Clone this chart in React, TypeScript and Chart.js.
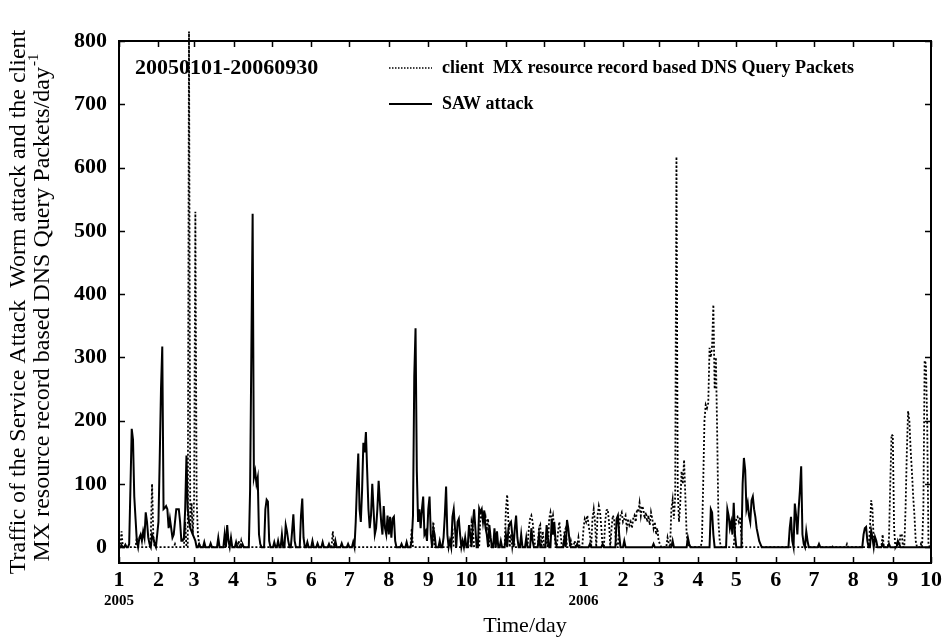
import React, { useEffect, useRef } from "react";
import { Chart, registerables } from "chart.js";

Chart.register(...registerables);

// ---- axis definitions ----
const monthTicks = [0, 31, 59, 90, 120, 151, 181, 212, 243, 273, 304, 334, 365, 396, 424, 455, 485, 516, 546, 577, 608, 638];
const monthLabels = ["1", "2", "3", "4", "5", "6", "7", "8", "9", "10", "11", "12", "1", "2", "3", "4", "5", "6", "7", "8", "9", "10"];
const yearDays = [0, 365];
const yearLabels = ["2005", "2006"];
const yTicks = [0, 100, 200, 300, 400, 500, 600, 700, 800];
const totalDays = 639;

// ---- SAW attack (solid), day index since 2005-01-01 -> packets/day ----
const sawDays = [
  2, 5, 8, 9, 10, 11, 12, 13, 14, 16, 17, 18, 19, 20, 21, 22, 23, 24, 26, 27, 28, 30,
  31, 32, 33, 34, 35, 36, 37, 38, 39, 40, 41, 42, 43, 44, 45, 46, 47, 48, 49, 50, 51, 52, 53,
  54, 55, 56, 57, 58, 59, 60, 63, 67, 72, 78, 83, 85, 86, 88, 92, 97,
  103, 104, 105, 106, 107, 108, 109, 110, 111, 115, 116, 117, 118, 122, 125, 128, 131, 132, 133,
  136, 137, 138, 143, 144, 145, 148, 152, 156, 160, 165, 170, 175, 180, 184,
  186, 187, 188, 189, 190, 191, 192, 193, 194, 195, 196, 197, 198, 199, 200, 201, 202, 203, 204, 205,
  206, 207, 208, 209, 210, 211, 212, 213, 214, 215, 216, 217, 222, 226, 230, 231, 232, 233, 234, 235,
  236, 237, 238, 239, 240, 241, 242, 243, 244, 245, 247, 248, 252, 255, 256, 257, 258, 260, 262, 263,
  264, 266, 267, 268, 270, 272, 275, 276, 278, 279, 280, 283, 284, 285, 286, 287, 288, 289, 291, 292,
  295, 297, 300, 304, 306, 307, 308, 309, 311, 312, 313, 316, 320, 324, 325, 330, 336, 337, 340, 341,
  342, 343, 350, 352, 353, 354, 360, 370, 380, 391, 392, 393, 397, 420, 435, 447, 448, 465, 466, 467,
  478, 479, 480, 481, 482, 483, 484, 490, 491, 492, 493, 494, 495, 496, 497, 498, 499, 500, 501, 502,
  503, 504, 527, 528, 529, 531, 532, 533, 534, 535, 536, 537, 538, 540, 541, 550, 585, 586, 587, 588,
  591, 592, 594, 595, 600, 605, 612, 613,
];
const sawValues = [
  3, 4, 5, 95, 187, 170, 80, 45, 10, 15, 20, 10, 25, 15, 55, 40, 15, 5, 20, 15, 5, 20,
  40, 140, 250, 317, 60, 62, 65, 60, 30, 45, 30, 15, 20, 40, 60, 60, 60, 40, 10, 10, 15, 60, 145,
  60, 40, 30, 25, 20, 15, 10, 5, 8, 6, 15, 20, 35, 10, 15, 8, 5,
  90, 310, 527, 110, 120, 100, 110, 20, 5, 60, 75, 72, 10, 8, 10, 20, 35, 25, 10,
  25, 52, 10, 50, 77, 15, 8, 10, 6, 8, 5, 10, 6, 5, 8,
  40, 100, 148, 60, 40, 90, 165, 150, 182, 120, 60, 30, 50, 100, 60, 20, 30, 60, 105, 70,
  40, 20, 65, 30, 20, 50, 20, 48, 15, 45, 48, 10, 5, 8, 10, 50, 270, 346, 120, 40,
  60, 30, 60, 80, 20, 25, 10, 60, 80, 20, 30, 20, 10, 15, 50, 96, 20, 10, 48, 60,
  30, 40, 45, 20, 10, 15, 35, 20, 37, 60, 30, 61, 55, 60, 40, 58, 30, 20, 35, 15,
  30, 25, 10, 20, 30, 37, 40, 20, 30, 50, 15, 20, 15, 30, 10, 20, 35, 15, 45, 20,
  40, 10, 15, 43, 30, 10, 5, 5, 5, 45, 50, 20, 10, 5, 10, 15, 5, 60, 55, 20,
  60, 50, 30, 40, 20, 70, 20, 100, 141, 122, 60, 70, 50, 40, 74, 80, 60, 48, 30, 20,
  10, 5, 30, 48, 10, 69, 50, 20, 60, 90, 128, 20, 5, 25, 10, 5, 20, 30, 32, 10,
  26, 15, 16, 10, 5, 5, 10, 5,
];

// ---- client MX resource record based DNS query packets (dotted) ----
const mxDays = [
  2, 14, 25, 26, 27, 44, 52, 55, 56, 57, 58, 59, 60, 61, 62, 63, 94, 96, 168, 230,
  247, 262, 277, 278, 284, 285, 286, 287, 288, 289, 290, 304, 305, 306, 308, 310,
  322, 323, 324, 325, 326, 330, 331, 333, 336, 338, 339, 340, 341, 342, 345, 346, 347, 350, 351,
  355, 358, 361, 365, 366, 367, 368, 369, 370, 372, 373, 374, 376, 377, 378, 379, 382, 383, 384,
  385, 387, 388, 389, 390, 393, 394, 395, 396, 397, 398, 399, 400, 401, 402, 403, 404, 405, 406,
  407, 408, 409, 410, 411, 412, 413, 414, 415, 416, 417, 418, 419, 420, 421, 422, 423, 424, 425,
  431, 432, 434, 435, 436, 437, 438, 439, 440, 441, 442, 443, 444, 445, 446, 447,
  458, 459, 460, 461, 462, 463, 464, 465, 466, 467, 468, 469, 470, 471, 472,
  484, 485, 486, 487, 488, 489, 560, 572, 590, 591, 592, 593, 600, 605, 606, 607, 608, 609,
  611, 614, 615, 618, 619, 620, 621, 622, 623, 624, 625, 626, 630, 632, 633, 634, 635, 636,
];
const mxValues = [
  25, 15, 20, 100, 15, 5, 40, 815, 30, 70, 20, 75, 530, 75, 20, 5, 10, 10, 25, 30,
  40, 30, 40, 30, 50, 45, 50, 40, 48, 30, 45, 60, 83, 40, 20, 15,
  30, 45, 50, 40, 20, 30, 35, 25, 20, 45, 55, 40, 50, 30, 25, 40, 20, 25, 30,
  10, 10, 15, 30, 45, 40, 50, 35, 20, 45, 60, 40, 50, 65, 55, 30, 40, 58, 60,
  40, 30, 50, 45, 20, 35, 50, 55, 40, 45, 50, 30, 45, 35, 40, 30, 45, 50, 40,
  60, 55, 70, 50, 65, 60, 45, 55, 40, 50, 35, 55, 45, 30, 40, 20, 30, 10, 5,
  15, 5, 60, 75, 45, 80, 617, 90, 40, 70, 120, 100, 138, 80, 20, 5,
  10, 100, 200, 225, 220, 228, 315, 300, 318, 383, 250, 300, 180, 40, 10,
  30, 45, 48, 40, 48, 20, 3, 5, 30, 74, 60, 10, 20, 15, 100, 178, 176, 30,
  5, 20, 21, 60, 150, 215, 200, 154, 120, 80, 50, 10, 5, 60, 295, 290, 200, 5,
];

function densify(days: number[], values: number[]) {
  const arr: number[] = new Array(totalDays).fill(0);
  days.forEach((d, i) => {
    arr[d] = values[i];
  });
  return arr.map((y, x) => ({ x, y }));
}

const SERIF = "'Liberation Serif', 'Times New Roman', serif";

const overlayPlugin = {
  id: "overlay",
  afterDraw(chart: any) {
    const { ctx, chartArea: ca, scales } = chart;
    const xs = scales.x;
    const ys = scales.y;
    ctx.save();
    ctx.strokeStyle = "#000";
    ctx.fillStyle = "#000";
    // frame
    ctx.lineWidth = 2;
    ctx.strokeRect(ca.left, ca.top, ca.right - ca.left, ca.bottom - ca.top);
    // inward ticks
    ctx.lineWidth = 1.5;
    const tl = 6;
    monthTicks.forEach((d) => {
      const px = Math.round(xs.getPixelForValue(d)) + 0.5;
      ctx.beginPath();
      ctx.moveTo(px, ca.bottom);
      ctx.lineTo(px, ca.bottom - tl);
      ctx.moveTo(px, ca.top);
      ctx.lineTo(px, ca.top + tl);
      ctx.stroke();
    });
    yTicks.forEach((v) => {
      const py = Math.round(ys.getPixelForValue(v)) + 0.5;
      ctx.beginPath();
      ctx.moveTo(ca.left, py);
      ctx.lineTo(ca.left + tl, py);
      ctx.moveTo(ca.right, py);
      ctx.lineTo(ca.right - tl, py);
      ctx.stroke();
    });
    // year labels
    ctx.font = `bold 15px ${SERIF}`;
    ctx.textAlign = "center";
    ctx.textBaseline = "middle";
    yearDays.forEach((d, i) => {
      ctx.fillText(yearLabels[i], xs.getPixelForValue(d), ca.bottom + 38);
    });
    // x title
    ctx.font = `22px ${SERIF}`;
    ctx.fillText("Time/day", (ca.left + ca.right) / 2, ca.bottom + 63);
    // y title (two lines, rotated)
    const cy = (ca.top + ca.bottom) / 2;
    ctx.save();
    ctx.translate(19, cy);
    ctx.rotate(-Math.PI / 2);
    ctx.font = `24px ${SERIF}`;
    ctx.fillText("Traffic of the Service Attack  Worm attack and the client", 0, 0);
    ctx.restore();
    ctx.save();
    ctx.translate(43, cy + 6);
    ctx.rotate(-Math.PI / 2);
    const main = "MX resource record based DNS Query Packets/day";
    const sup = "-1";
    ctx.font = `24px ${SERIF}`;
    const wMain = ctx.measureText(main).width;
    ctx.font = `15px ${SERIF}`;
    const wSup = ctx.measureText(sup).width;
    const start = -(wMain + wSup) / 2;
    ctx.textAlign = "left";
    ctx.font = `24px ${SERIF}`;
    ctx.fillText(main, start, 0);
    ctx.font = `15px ${SERIF}`;
    ctx.fillText(sup, start + wMain + 1, -9);
    ctx.restore();
    // inner title
    ctx.textAlign = "left";
    ctx.font = `bold 22px ${SERIF}`;
    ctx.fillText("20050101-20060930", ca.left + 16, ca.top + 27);
    // legend
    const lx0 = ca.left + 270;
    const lx1 = ca.left + 313;
    const row1 = ca.top + 27;
    const row2 = ca.top + 63;
    ctx.lineWidth = 1.5;
    ctx.setLineDash([1.5, 1.5]);
    ctx.beginPath();
    ctx.moveTo(lx0, row1);
    ctx.lineTo(lx1, row1);
    ctx.stroke();
    ctx.setLineDash([]);
    ctx.lineWidth = 2;
    ctx.beginPath();
    ctx.moveTo(lx0, row2);
    ctx.lineTo(lx1, row2);
    ctx.stroke();
    ctx.font = `bold 18px ${SERIF}`;
    ctx.fillText("client  MX resource record based DNS Query Packets", ca.left + 323, row1);
    ctx.fillText("SAW attack", ca.left + 323, row2);
    ctx.restore();
  },
};

export default function App() {
  const ref = useRef<HTMLCanvasElement>(null);
  useEffect(() => {
    if (!ref.current) return;
    const chart = new Chart(ref.current, {
      type: "line",
      data: {
        datasets: [
          {
            label: "SAW attack",
            data: densify(sawDays, sawValues),
            borderColor: "#000",
            borderWidth: 2,
            pointRadius: 0,
            tension: 0,
            order: 0,
          },
          {
            label: "client MX resource record based DNS Query Packets",
            data: densify(mxDays, mxValues),
            borderColor: "#000",
            borderWidth: 1.8,
            borderDash: [2, 2],
            pointRadius: 0,
            tension: 0,
            order: 1,
            clip: { left: 0, right: 0, top: 12, bottom: 0 } as any,
          },
        ],
      },
      options: {
        responsive: false,
        animation: false,
        events: [],
        layout: { padding: { top: 41, right: 12, left: 0, bottom: 0 } },
        plugins: { legend: { display: false }, tooltip: { enabled: false } },
        scales: {
          x: {
            type: "linear",
            min: 0,
            max: 638,
            grid: { display: false, drawTicks: false },
            border: { display: false },
            afterBuildTicks: (scale: any) => {
              scale.ticks = monthTicks.map((v) => ({ value: v }));
            },
            afterFit: (scale: any) => {
              scale.height = 76;
              scale.paddingLeft = 0;
              scale.paddingRight = 0;
            },
            ticks: {
              autoSkip: false,
              maxRotation: 0,
              padding: 4,
              color: "#000",
              font: { family: SERIF, size: 22, weight: "bold" },
              callback: (_v: any, i: number) => monthLabels[i],
            },
          },
          y: {
            type: "linear",
            min: -25,
            max: 800,
            grid: { display: false, drawTicks: false },
            border: { display: false },
            afterBuildTicks: (scale: any) => {
              scale.ticks = yTicks.map((v) => ({ value: v }));
            },
            afterFit: (scale: any) => {
              scale.width = 119;
              scale.paddingTop = 0;
              scale.paddingBottom = 0;
            },
            ticks: {
              padding: 12,
              color: "#000",
              font: { family: SERIF, size: 22, weight: "bold" },
              callback: (v: any) => String(v),
            },
          },
        },
      },
      plugins: [overlayPlugin],
    });
    return () => chart.destroy();
  }, []);
  return (
    <canvas
      ref={ref}
      width={943}
      height={639}
      style={{ position: "absolute", left: 0, top: 0, width: 943, height: 639 }}
    />
  );
}
